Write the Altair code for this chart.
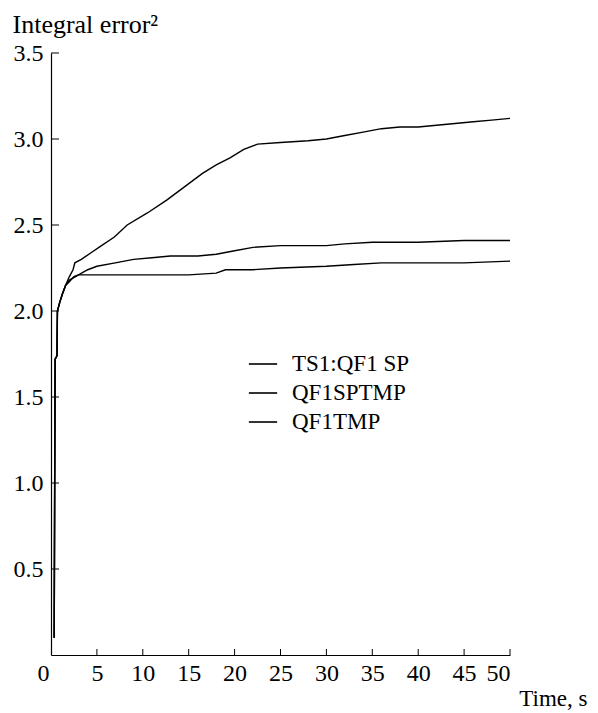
import altair as alt
import pandas as pd

series_names = ["TS1:QF1 SP", "QF1SPTMP", "QF1TMP"]

start_t = [0.35, 0.4, 0.45, 0.65, 0.7, 0.95, 1.25, 1.6]
start_v = [0.1, 1.0, 1.72, 1.74, 2.0, 2.05, 2.1, 2.15]

top_t = [2.0, 2.4, 2.6, 3.3, 4.4, 5.5, 6.9, 8.3, 10.5, 12.6, 14.5, 16.5, 18, 19.5,
         21, 22.5, 25, 28, 30, 32, 34, 36, 38, 40, 42, 44, 46, 48, 50]
top_v = [2.20, 2.24, 2.28, 2.30, 2.34, 2.38, 2.43, 2.50, 2.57, 2.645, 2.72, 2.80,
         2.85, 2.89, 2.94, 2.97, 2.98, 2.99, 3.00, 3.02, 3.04, 3.06, 3.07, 3.07,
         3.08, 3.09, 3.10, 3.11, 3.12]

mid_t = [2, 3, 4, 5, 7, 9, 11, 13, 16, 18, 20, 22, 25, 30, 32, 35, 40, 45, 50]
mid_v = [2.18, 2.21, 2.24, 2.26, 2.28, 2.30, 2.31, 2.32, 2.32, 2.33, 2.35, 2.37,
         2.38, 2.38, 2.39, 2.40, 2.40, 2.41, 2.41]

low_t = [2, 2.5, 3, 5, 10, 15, 18, 19, 22, 25, 30, 33, 36, 40, 45, 50]
low_v = [2.17, 2.20, 2.21, 2.21, 2.21, 2.21, 2.22, 2.24, 2.24, 2.25, 2.26, 2.27,
         2.28, 2.28, 2.28, 2.29]

y_ticks = [0.5, 1.0, 1.5, 2.0, 2.5, 3.0, 3.5]
x_ticks = [0, 5, 10, 15, 20, 25, 30, 35, 40, 45, 50]

rows = []
for name, ts, vs in zip(series_names, [top_t, mid_t, low_t], [top_v, mid_v, low_v]):
    for i, (t, v) in enumerate(zip(start_t + ts, start_v + vs)):
        rows.append({"series": name, "t": t, "v": v, "order": i})
df = pd.DataFrame(rows)

W, H = 459, 602
FONT = "Liberation Serif"

xscale = alt.Scale(domain=[0, 50], nice=False, zero=False)
yscale = alt.Scale(domain=[0, 3.5], nice=False)

lines = alt.Chart(df).mark_line(strokeWidth=1.4, interpolate="linear").encode(
    x=alt.X("t:Q", scale=xscale,
            axis=alt.Axis(values=x_ticks, ticks=False, grid=False, labelPadding=6,
                          labelOffset={"condition": {"test": "datum.value == 0", "value": -14},
                                       "value": 0},
                          title="Time, s", titleAnchor="end", titleAlign="right",
                          titleX=536, titleY=50, titleBaseline="alphabetic",
                          titleFontWeight="normal")),
    y=alt.Y("v:Q", scale=yscale,
            axis=alt.Axis(values=y_ticks, format=".1f", ticks=False, grid=False,
                          labelPadding=8, title="Integral error\u00b2", titleAngle=0,
                          titleAlign="left", titleX=-39, titleY=-21, titleFontSize=26,
                          titleBaseline="alphabetic", titleFontWeight="normal")),
    color=alt.Color("series:N", sort=series_names,
                    scale=alt.Scale(domain=series_names, range=["black", "black", "black"]),
                    legend=alt.Legend(title=None, orient="none", legendX=197, legendY=296,
                                      symbolType="stroke", symbolSize=800,
                                      symbolStrokeWidth=1.6, labelFontSize=23,
                                      labelFont=FONT, rowPadding=2, labelOffset=14)),
    detail="series:N",
    order="order:Q",
)

ytick_df = pd.DataFrame({"v": y_ticks})
xtick_df = pd.DataFrame({"t": x_ticks[1:]})

yticks = alt.Chart(ytick_df).mark_rule(color="black", strokeWidth=1).encode(
    y=alt.Y("v:Q", scale=yscale), x=alt.value(0), x2=alt.value(8))
xticks = alt.Chart(xtick_df).mark_rule(color="black", strokeWidth=1).encode(
    x=alt.X("t:Q", scale=xscale), y=alt.value(H), y2=alt.value(H - 6))

chart = alt.layer(lines, yticks, xticks).properties(
    width=W, height=H,
    padding={"left": 51, "top": 53, "right": 88, "bottom": 58},
    autosize=alt.AutoSizeParams(type="none"),
    background="white",
).configure_view(stroke=None).configure_axis(
    domainColor="black", domainWidth=1.2, labelFont=FONT, titleFont=FONT,
    labelFontSize=24, titleFontSize=23, labelColor="black", titleColor="black",
)

chart.save("out.html", embed_options={"renderer": "svg", "actions": False})
